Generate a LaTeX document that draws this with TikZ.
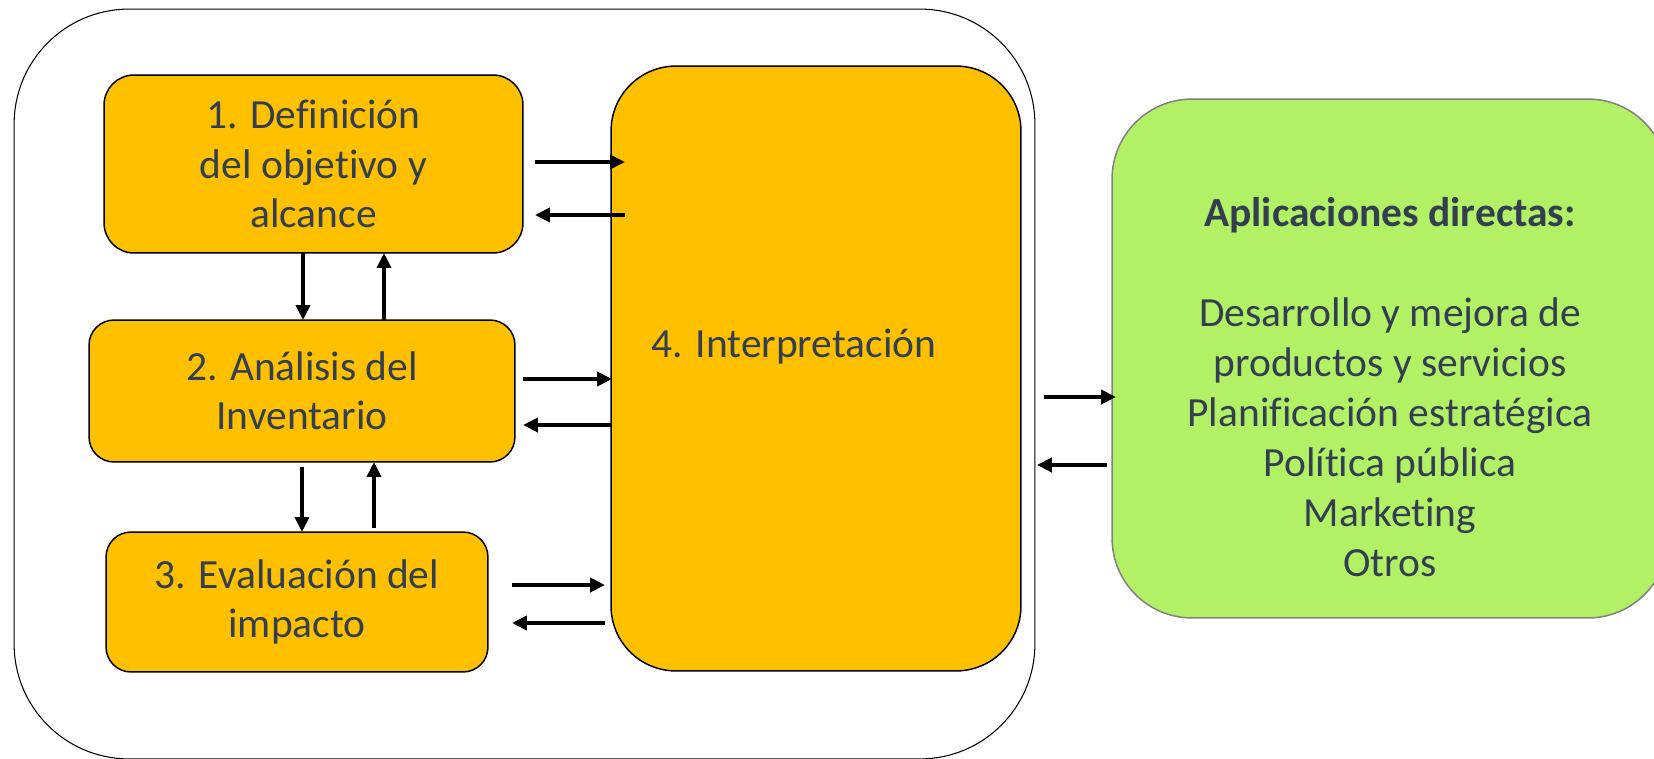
\documentclass[tikz,border=0pt]{standalone}
\usepackage{fontspec}
\setmainfont[Ligatures = NoCommon]{Carlito}
\usetikzlibrary{arrows.meta, calc}
\definecolor{paso}{HTML}{FFC000}
\definecolor{aplic}{HTML}{B2F066}
\definecolor{texto}{HTML}{333F50}

\begin{document}
\begin{tikzpicture}[x = 0.02cm, y = -0.02cm,
  caja/.style = {draw, line width = 0.85pt, fill = paso, align = center, inner sep = 0pt, outer sep = 0pt, text = texto, font = \fontsize{23.6}{28}\selectfont},
  flecha/.style = {-{Triangle[length = 0.3cm, width = 0.28cm]}, line width = 2.2pt}]
  \useasboundingbox (0, 0) rectangle (1654, 758);
  % outer frame and the four steps
  \node[draw, line width = 0.6pt, rounded corners = 2.3cm, minimum width = 20.42cm, minimum height = 15cm, inner sep = 0pt, outer sep = 0pt] at (524.5, 384) (marco) {};
  \node[caja, rounded corners = 0.6cm, minimum width = 8.38cm, minimum height = 3.56cm] at (313.5, 164) (p1) {1. Definición\\del objetivo y\\alcance};
  \node[caja, rounded corners = 0.5cm, minimum width = 8.52cm, minimum height = 2.84cm] at (302, 391) (p2) {2. Análisis del\\Inventario};
  \node[caja, rounded corners = 0.5cm, minimum width = 7.64cm, minimum height = 2.8cm] at (297, 602) (p3) {3. Evaluación del\\impacto};
  \node[caja, rounded corners = 1.3cm, minimum width = 8.2cm, minimum height = 12.1cm] at (816, 368.5) (p4) {};
  \node[text = texto, font = \fontsize{23.6}{28}\selectfont] at (794, 347) (t4) {4. Interpretación};
  % applications
  \node[draw = black!50, fill = aplic, line width = 0.85pt, rounded corners = 1.6cm, minimum width = 11.12cm, minimum height = 10.38cm, inner sep = 0pt, outer sep = 0pt] at (1390, 358.5) (apl) {};
  \node[text = texto, align = center, font = \fontsize{23.6}{28.5}\selectfont] at (1390, 387) (tapl) {\textbf{Aplicaciones directas:}\\[28.5pt]Desarrollo y mejora de\\productos y servicios\\Planificación estratégica\\Política pública\\Marketing\\Otros};
  % arrows between steps
  \draw[flecha] (p1.south -| 303, 0) -- (p2.north -| 303, 0);
  \draw[flecha] (p2.north -| 384, 0) -- (p1.south -| 384, 0);
  \draw[flecha] ($(p2.south -| 302, 0) + (0, 5)$) -- (p3.north -| 302, 0);
  \draw[flecha] ($(p3.north -| 374, 0) + (0, -4)$) -- (p2.south -| 374, 0);
  \draw[flecha] ($(p1.east |- 0, 162) + (12, 0)$) -- ($(p4.west |- 0, 162) + (14, 0)$);
  \draw[flecha] ($(p4.west |- 0, 215) + (14, 0)$) -- ($(p1.east |- 0, 215) + (12, 0)$);
  \draw[flecha] ($(p2.east |- 0, 379) + (8, 0)$) -- ($(p4.west |- 0, 379) + (1, 0)$);
  \draw[flecha] ($(p4.west |- 0, 425) + (1, 0)$) -- ($(p2.east |- 0, 425) + (8, 0)$);
  \draw[flecha] ($(p3.east |- 0, 585) + (24, 0)$) -- ($(p4.west |- 0, 585) + (-6, 0)$);
  \draw[flecha] ($(p4.west |- 0, 623) + (-6, 0)$) -- ($(p3.east |- 0, 623) + (24, 0)$);
  \draw[flecha] ($(marco.east |- 0, 397) + (9, 0)$) -- ($(apl.west |- 0, 397) + (4, 0)$);
  \draw[flecha] ($(apl.west |- 0, 465) + (-5, 0)$) -- ($(marco.east |- 0, 465) + (2, 0)$);
\end{tikzpicture}
\end{document}
